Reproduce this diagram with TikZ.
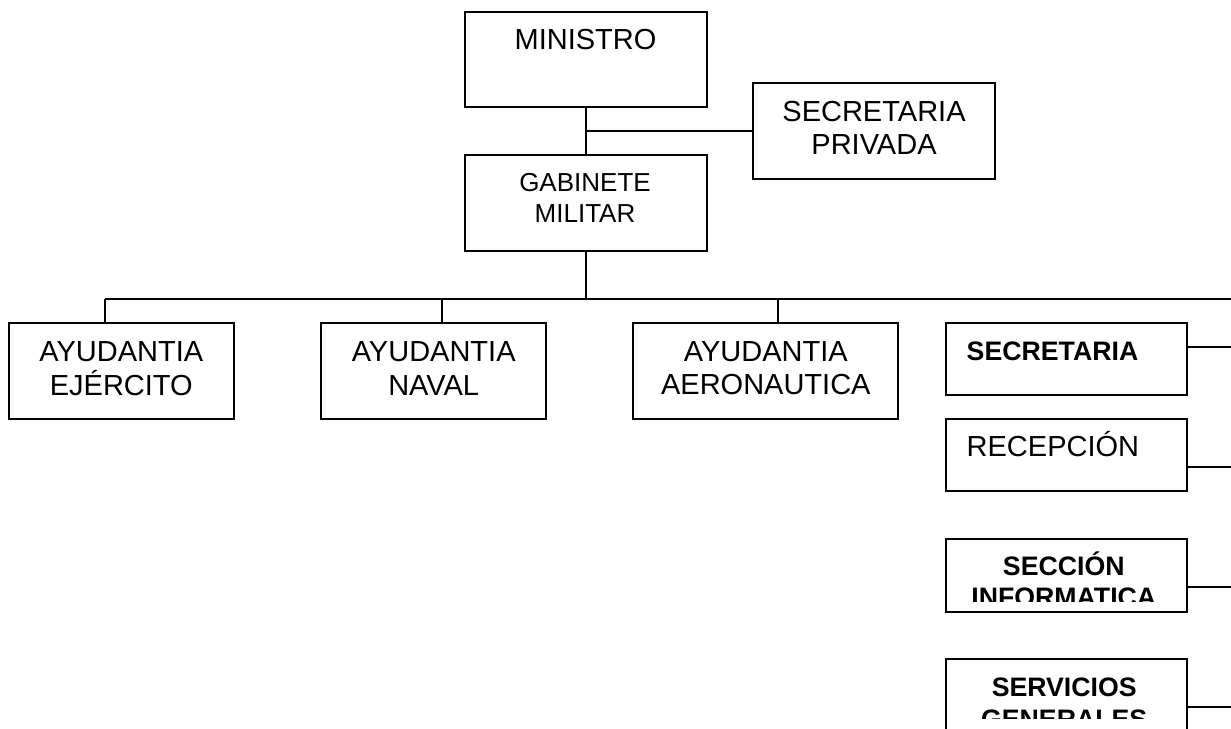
\documentclass[tikz,border=0pt]{standalone}
\usepackage{fontspec}
\setmainfont{Liberation Sans}
\begin{document}
\begin{tikzpicture}[x=1pt,y=-1pt,
  unit/.style={draw=black, line width=2.2pt, inner sep=0pt, outer sep=0pt, rectangle},
  link/.style={draw=black, line width=2pt},
  txt/.style={inner sep=0pt, outer sep=0pt, align=center, font=\fontsize{29}{33.3}\selectfont},
  txtsmall/.style={inner sep=0pt, outer sep=0pt, align=center, font=\fontsize{26}{30.6}\selectfont},
  txtbold/.style={inner sep=0pt, outer sep=0pt, align=center, font=\bfseries\fontsize{26.7}{31.5}\selectfont}
]
\useasboundingbox (0,0) rectangle (1231,728);

% top of the chart (multi-line labels sit on the baseline of their last line)
\node[unit, minimum width=241.4pt, minimum height=95.6pt] (min) at (586,59.5) {};
\node[txt, anchor=base] (mint) at (585.5,49) {MINISTRO};

\node[unit, minimum width=241.4pt, minimum height=96pt] (secp) at (874,130.7) {};
\node[txt, anchor=base] (secpt) at (874,154.3) {SECRETARIA\\PRIVADA};

\node[unit, minimum width=241.4pt, minimum height=95.7pt] (gab) at (586,202.9) {};
\node[txtsmall, anchor=base] (gabt) at (585,222.3) {GABINETE\\MILITAR};

% aides
\node[unit, minimum width=225.6pt, minimum height=96.6pt] (ej) at (121.5,371) {};
\node[txt, anchor=base] (ejt) at (121.3,395) {AYUDANTIA\\EJÉRCITO};

\node[unit, minimum width=225pt, minimum height=96.6pt] (nav) at (433.8,371) {};
\node[txt, anchor=base] (navt) at (433.7,395) {AYUDANTIA\\NAVAL};

\node[unit, minimum width=265.3pt, minimum height=96.6pt] (aer) at (765.7,371) {};
\node[txt, anchor=base] (aert) at (765.8,394.5) {AYUDANTIA\\AERONAUTICA};

% right column
\node[unit, minimum width=241pt, minimum height=72.6pt] (sec) at (1066.2,359) {};
\node[txtbold, anchor=base west] (sect) at (966.7,360) {SECRETARIA};

\node[unit, minimum width=241pt, minimum height=71.4pt] (rec) at (1066.2,455) {};
\node[txt, anchor=base west] (rect) at (966.7,456.7) {RECEPCIÓN};

\node[unit, minimum width=241pt, minimum height=72.4pt] (inf) at (1066.2,575.5) {};
\begin{scope}
  \clip (947,541) rectangle (1185,601.7);
  \node[txtbold, anchor=base] (inft) at (1063.8,606.5) {SECCIÓN\\INFORMATICA};
\end{scope}

\node[unit, minimum width=241pt, minimum height=72.4pt] (srv) at (1066.2,695.5) {};
\begin{scope}
  \clip (947,661) rectangle (1185,718.3);
  \node[txtbold, anchor=base] (srvt) at (1064.2,728.2) {SERVICIOS\\GENERALES};
\end{scope}

% connectors
\coordinate (bus) at (586,299);
\coordinate (busL) at (105.3,299);
\coordinate (busR) at (1231,299);
\coordinate (dnav) at (442.3,299);
\coordinate (daer) at (778.3,299);

\draw[link] (min.south) -- (gab.north);
\draw[link] (secp.west) -- (secp.west -| min.south);
\draw[link] (gab.south) -- (bus);
\draw[link] (busL) -- (busR);
\draw[link] (busL) -- (busL |- ej.north);
\draw[link] (dnav) -- (dnav |- nav.north);
\draw[link] (daer) -- (daer |- aer.north);

\coordinate (secend) at (1231,346.7);
\coordinate (recend) at (1231,467.3);
\coordinate (infend) at (1231,586.7);
\coordinate (srvend) at (1231,706.7);
\draw[link] (secend -| sec.east) -- (secend);
\draw[link] (recend -| rec.east) -- (recend);
\draw[link] (infend -| inf.east) -- (infend);
\draw[link] (srvend -| srv.east) -- (srvend);
\end{tikzpicture}
\end{document}
